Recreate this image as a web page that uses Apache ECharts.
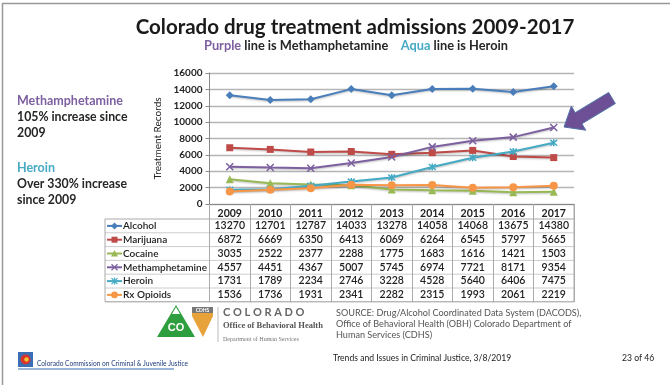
<!DOCTYPE html>
<html><head><meta charset="utf-8">
<script src="https://cdn.jsdelivr.net/npm/echarts@6/dist/echarts.min.js"></script>
<style>html,body{margin:0;padding:0;background:#fff}#c{width:670px;height:385px}</style>
</head><body><div id="c"></div>
<script>
// ---- data ----
const years = ['2009','2010','2011','2012','2013','2014','2015','2016','2017'];
const alcohol = [13270,12701,12787,14033,13278,14058,14068,13675,14380];
const marijuana = [6872,6669,6350,6413,6069,6264,6545,5797,5665];
const cocaine = [3035,2522,2377,2288,1775,1683,1616,1421,1503];
const meth = [4557,4451,4367,5007,5745,6974,7721,8171,9354];
const heroin = [1731,1789,2234,2746,3228,4528,5640,6406,7475];
const rxOpioids = [1536,1736,1931,2341,2282,2315,1993,2061,2219];
const seriesNames = ['Alcohol','Marijuana','Cocaine','Methamphetamine','Heroin','Rx Opioids'];
const yMin = 0, yMax = 16000, yStep = 2000;

const values = [alcohol, marijuana, cocaine, meth, heroin, rxOpioids];
const colors = ['#4a7ebb','#be4b48','#98b954','#7d60a0','#46aac5','#f79646'];
const symbols = ['diamond','rect','triangle',
  'path://M0,0L10,10M10,0L0,10',
  'path://M0,0L10,10M10,0L0,10M5,-1L5,11',
  'circle'];
const symSizes = [8,7,8,7,7,8];
const FONT = 'Lato';

const chart = echarts.init(document.getElementById('c'));

const series = seriesNames.map((n,i)=>({
  name:n, type:'line', data: values[i], symbol: symbols[i], symbolSize: symSizes[i],
  showSymbol:true,
  lineStyle:{width:2,color:colors[i],shadowColor:'rgba(0,0,0,0.25)',shadowBlur:2,shadowOffsetY:1},
  itemStyle:{color:colors[i],borderColor:colors[i],borderWidth:(i===3||i===4)?1.5:0},
  z: 3
}));

chart.setOption({
  animation:false,
  textStyle:{fontFamily:FONT},
  grid:{left:209.5,right:96,top:73,bottom:181,containLabel:false},
  xAxis:{type:'category',data:years,boundaryGap:true,
    axisLine:{lineStyle:{color:'#888',width:1}},
    axisTick:{show:true,interval:0,length:98,lineStyle:{color:'#aaa'}},
    axisLabel:{show:true,interval:0,margin:4,fontSize:10.5,fontWeight:'bold',color:'#222',fontFamily:FONT}
  },
  yAxis:{type:'value',min:yMin,max:yMax,interval:yStep,
    name:'Treatment Records',nameLocation:'middle',nameRotate:90,nameGap:45,
    nameTextStyle:{fontSize:10,color:'#222',fontFamily:FONT},
    axisLine:{show:true,lineStyle:{color:'#888'}},
    axisTick:{show:true,length:4,lineStyle:{color:'#888'}},
    axisLabel:{fontSize:10,fontWeight:'bold',color:'#222',margin:7,fontFamily:FONT,formatter:v=>String(v)},
    splitLine:{lineStyle:{color:'#b5b5b5',width:1.3}}
  },
  series: series
});

// ---- table & decorations ----
const xp = i => chart.convertToPixel({xAxisIndex:0}, i);
const y0 = chart.convertToPixel({yAxisIndex:0}, 0);
const bw = xp(1) - xp(0);
const leftEdge = xp(0) - bw/2;
const rightEdge = xp(years.length-1) + bw/2;
const labelLeft = 105;
const headerBottom = y0 + 15;
const rowH = 13.8;
const tableBottom = headerBottom + rowH*seriesNames.length;

const g = [];
const line = (x1,y1,x2,y2,c,w)=>g.push({type:'line',shape:{x1,y1,x2,y2},style:{stroke:c||'#aaa',lineWidth:w||1},silent:true});
const text = (x,y,t,o)=>g.push({type:'text',x,y,style:Object.assign({text:t,fill:'#222',fontFamily:FONT,fontSize:10,textVerticalAlign:'middle',verticalAlign:'middle'},o||{}),silent:true});

// slide frame
line(2,3.5,670,3.5,'#999',1.5);
line(2.5,3,2.5,385,'#999',1.5);

// table lines
line(leftEdge, headerBottom, rightEdge, headerBottom, '#aaa');
line(labelLeft, headerBottom, leftEdge, headerBottom, '#aaa');
for (let r=1;r<=seriesNames.length;r++){
  const yy = headerBottom + rowH*r;
  line(labelLeft, yy, rightEdge, yy, r===seriesNames.length?'#999':'#ccc');
}
line(labelLeft, headerBottom, labelLeft, tableBottom, '#aaa');
line(rightEdge, y0, rightEdge, tableBottom, '#aaa');

function keyMarker(r, cx, cy){
  const c = colors[r];
  if (r===0) g.push({type:'polygon',shape:{points:[[cx,cy-3.5],[cx+3.5,cy],[cx,cy+3.5],[cx-3.5,cy]]},style:{fill:c},silent:true});
  else if (r===1) g.push({type:'rect',shape:{x:cx-3,y:cy-3,width:6,height:6},style:{fill:c},silent:true});
  else if (r===2) g.push({type:'polygon',shape:{points:[[cx,cy-3.5],[cx+3.5,cy+3],[cx-3.5,cy+3]]},style:{fill:c},silent:true});
  else if (r===3){ line(cx-3,cy-3,cx+3,cy+3,c,1.3); line(cx-3,cy+3,cx+3,cy-3,c,1.3); }
  else if (r===4){ line(cx-3,cy-3,cx+3,cy+3,c,1.3); line(cx-3,cy+3,cx+3,cy-3,c,1.3); line(cx,cy-3.5,cx,cy+3.5,c,1.3); }
  else g.push({type:'circle',shape:{cx,cy,r:3.3},style:{fill:c},silent:true});
}

seriesNames.forEach((n,r)=>{
  const cy = headerBottom + rowH*(r+0.5);
  line(107, cy, 122, cy, colors[r], 2);
  keyMarker(r, 114.5, cy);
  text(123, cy, n, {fontSize:10, fontWeight:600});
  values[r].forEach((v,i)=>{
    text(xp(i), cy, String(v), {textAlign:'center', align:'center', fontSize:10.5, fontWeight:600});
  });
});

// title
text(355, 27, 'Colorado drug treatment admissions 2009-2017', {textAlign:'center',align:'center',fontSize:20.5,fontWeight:'bold',fill:'#1a1a1a'});
g.push({type:'text', x:356, y:46, silent:true, style:{
  text:'{p|Purple} line is Methamphetamine    {a|Aqua} line is Heroin',
  textAlign:'center', align:'center', textVerticalAlign:'middle', verticalAlign:'middle',
  fontFamily:FONT, fontSize:12.8, fontWeight:'bold', fill:'#262626',
  rich:{p:{fill:'#7d60a0',fontFamily:FONT,fontSize:12.8,fontWeight:'bold'},a:{fill:'#46aac5',fontFamily:FONT,fontSize:12.8,fontWeight:'bold'}}
}});

// left annotations
text(17, 101, 'Methamphetamine', {fontSize:12.5,fontWeight:'bold',fill:'#7d60a0'});
text(17, 117, '105% increase since', {fontSize:12.3,fontWeight:'bold',fill:'#262626'});
text(17, 133, '2009', {fontSize:12.3,fontWeight:'bold',fill:'#262626'});
text(17, 168, 'Heroin', {fontSize:12.5,fontWeight:'bold',fill:'#46aac5'});
text(17, 184, 'Over 330% increase', {fontSize:12.3,fontWeight:'bold',fill:'#262626'});
text(17, 200, 'since 2009', {fontSize:12.3,fontWeight:'bold',fill:'#262626'});

// purple arrow
(function(){
  const T=[612,98], P=[564,127];
  const dx=P[0]-T[0], dy=P[1]-T[1], L=Math.hypot(dx,dy);
  const ux=dx/L, uy=dy/L, nx=-uy, ny=ux;
  const sw=6.5, hw=14, hl=17;
  const B=[P[0]-ux*hl, P[1]-uy*hl];
  const pts=[
    [T[0]+nx*sw,T[1]+ny*sw],[B[0]+nx*sw,B[1]+ny*sw],[B[0]+nx*hw,B[1]+ny*hw],P,
    [B[0]-nx*hw,B[1]-ny*hw],[B[0]-nx*sw,B[1]-ny*sw],[T[0]-nx*sw,T[1]-ny*sw]];
  g.push({type:'polygon',shape:{points:pts},style:{fill:'#6c4f94',stroke:'#4f74a8',lineWidth:1},silent:true,z:10});
})();

// Colorado OBH logo
g.push({type:'polygon',shape:{points:[[157,337],[176,305],[195,337]]},style:{fill:'#2e9e3e'},silent:true});
g.push({type:'polygon',shape:{points:[[172,314],[176,307],[180,314]]},style:{fill:'#fff'},silent:true});
text(176, 328, 'CO', {textAlign:'center',align:'center',fontSize:11,fontWeight:'bold',fill:'#fff',fontFamily:'Liberation Sans'});
g.push({type:'polygon',shape:{points:[[192,307],[213,307],[213,316],[203,337],[192,316]]},style:{fill:'#e8a23a'},silent:true});
g.push({type:'rect',shape:{x:192,y:307,width:21,height:6},style:{fill:'#777'},silent:true});
text(202.5, 310, 'CDHS', {textAlign:'center',align:'center',fontSize:5,fontWeight:'bold',fill:'#fff'});
line(218, 307, 218, 342, '#bbb', 1);
text(223, 312, 'C O L O R A D O', {fontSize:11,fontWeight:'bold',fill:'#666'});
text(223, 326, 'Office of Behavioral Health', {fontSize:8.5,fontWeight:'bold',fill:'#555',fontFamily:'Liberation Serif'});
text(223, 339, 'Department of Human Services', {fontSize:6,fill:'#777',fontFamily:'Liberation Serif'});

// source
text(336, 313, 'SOURCE: Drug/Alcohol Coordinated Data System (DACODS),', {fontSize:9.1,fill:'#555'});
text(336, 324, 'Office of Behavioral Health (OBH) Colorado Department of', {fontSize:9.1,fill:'#555'});
text(336, 335, 'Human Services (CDHS)', {fontSize:9.1,fill:'#555'});

// footer
g.push({type:'rect',shape:{x:18,y:352,width:15,height:15},style:{fill:'#3a6fb5'},silent:true});
g.push({type:'circle',shape:{cx:25.5,cy:359.5,r:5},style:{fill:'#d8342b'},silent:true});
g.push({type:'circle',shape:{cx:26.5,cy:359.5,r:2.2},style:{fill:'#f2c230'},silent:true});
text(37, 363.5, 'Colorado Commission on Criminal & Juvenile Justice', {fontSize:6.6,fill:'#1f3b7a'});
line(18, 369, 174, 369, '#3a6fb5', 1);
text(333, 358, 'Trends and Issues in Criminal Justice, 3/8/2019', {fontSize:8.6,fill:'#222'});
text(622, 358, '23 of 46', {fontSize:8.6,fill:'#222'});

chart.setOption({graphic: g});
</script></body></html>
